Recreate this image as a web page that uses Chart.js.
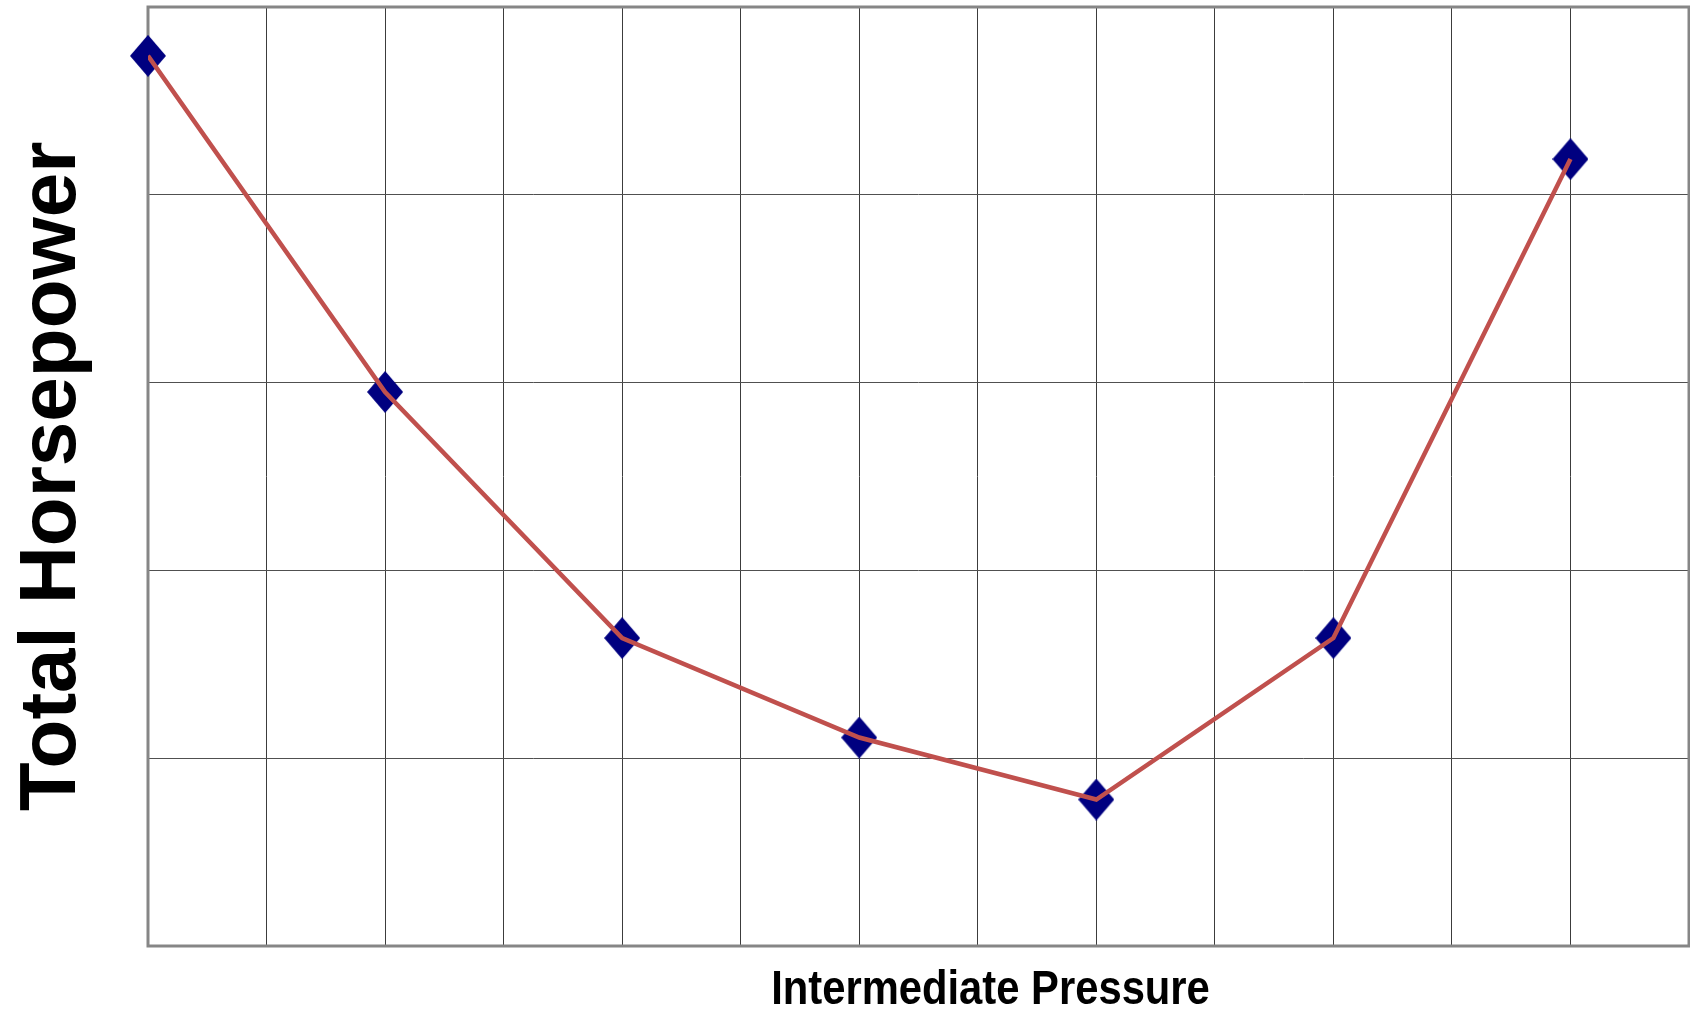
<!DOCTYPE html>
<html>
<head>
<meta charset="utf-8">
<script src="https://cdn.jsdelivr.net/npm/chart.js@4"></script>
<style>
  html, body { margin: 0; padding: 0; background: #fff; }
  canvas { display: block; }
</style>
</head>
<body>
<canvas id="myChart" width="1690" height="1013"></canvas>
<script>
// values (y in grid units, x in grid columns)
const pressure = [0, 2, 4, 6, 8, 10, 12];
const horsepower = [4.74, 2.95, 1.64, 1.11, 0.78, 1.64, 4.19];
const xTitle = 'Intermediate Pressure';
const yTitle = 'Total Horsepower';

const points = pressure.map((p, i) => ({ x: p, y: horsepower[i] }));

// tall navy diamond used as marker
const diamond = document.createElement('canvas');
diamond.width = 36;
diamond.height = 42;
const dctx = diamond.getContext('2d');
dctx.fillStyle = '#000080';
dctx.beginPath();
dctx.moveTo(18, 0);
dctx.lineTo(36, 21);
dctx.lineTo(18, 42);
dctx.lineTo(0, 21);
dctx.closePath();
dctx.fill();

const framePlugin = {
  id: 'frame',
  beforeDatasetsDraw(chart) {
    const a = chart.chartArea;
    const ctx = chart.ctx;
    ctx.save();
    ctx.strokeStyle = '#868686';
    ctx.lineWidth = 3;
    ctx.strokeRect(a.left, a.top, a.right - a.left, a.bottom - a.top);
    ctx.restore();
  }
};

const titlesPlugin = {
  id: 'titles',
  afterDraw(chart) {
    const a = chart.chartArea;
    const ctx = chart.ctx;
    ctx.save();
    ctx.fillStyle = '#000';
    ctx.textAlign = 'center';
    ctx.textBaseline = 'alphabetic';

    // x title, condensed bold
    ctx.font = 'bold 48px "Liberation Sans", Arial, sans-serif';
    ctx.save();
    ctx.translate((a.left + a.right) / 2 + 72, a.bottom + 58);
    ctx.scale(0.87, 1);
    ctx.fillText(xTitle, 0, 0);
    ctx.restore();

    // y title, rotated
    ctx.font = 'bold 80px "Liberation Sans", Arial, sans-serif';
    ctx.translate(75, (a.top + a.bottom) / 2);
    ctx.rotate(-Math.PI / 2);
    ctx.fillText(yTitle, 0, 0);
    ctx.restore();
  }
};

const ctx = document.getElementById('myChart').getContext('2d');
new Chart(ctx, {
  type: 'line',
  data: {
    datasets: [{
      data: points,
      borderColor: '#C0504D',
      borderWidth: 4.5,
      pointRadius: 0,
      tension: 0,
      fill: false,
      order: 0
    }, {
      data: points,
      showLine: false,
      pointStyle: diamond,
      pointRadius: 20,
      clip: false,
      order: 1
    }]
  },
  plugins: [framePlugin, titlesPlugin],
  options: {
    responsive: false,
    animation: false,
    layout: { autoPadding: false, padding: { left: 148, top: 7, right: 1, bottom: 67 } },
    plugins: {
      legend: { display: false },
      tooltip: { enabled: false }
    },
    scales: {
      x: {
        type: 'linear',
        min: 0,
        max: 13,
        ticks: { display: false, stepSize: 1 },
        grid: { color: '#3c3c3c', lineWidth: 1, drawTicks: false },
        border: { display: false },
        afterFit(scale) { scale.height = 0; }
      },
      y: {
        min: 0,
        max: 5,
        ticks: { display: false, stepSize: 1 },
        grid: { color: '#505050', lineWidth: 1, drawTicks: false },
        border: { display: false },
        afterFit(scale) { scale.width = 0; }
      }
    }
  }
});
</script>
</body>
</html>
